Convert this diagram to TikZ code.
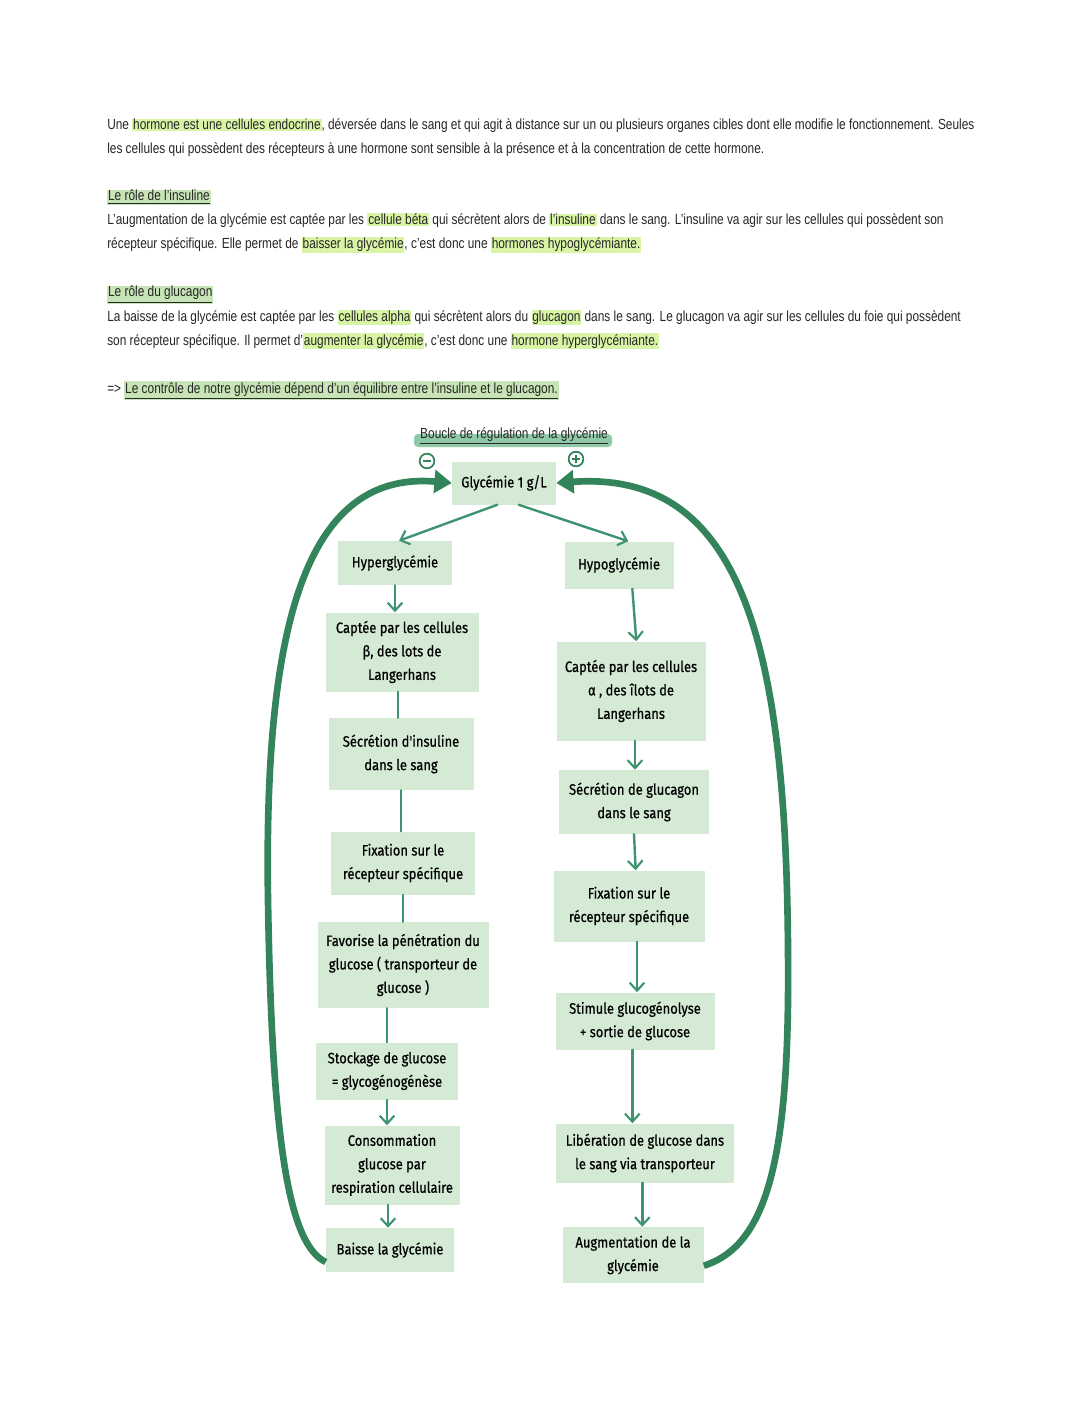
\documentclass[tikz,border=0pt]{standalone}
\usepackage{fontspec}
\setmainfont[FakeStretch=0.81]{Liberation Sans}
\newfontfamily\boxfont[FakeStretch=0.86,FakeBold=0.6]{Fira Sans}
\usetikzlibrary{arrows.meta}
\definecolor{hlyel}{HTML}{D8F5A6}
\definecolor{hlhead}{HTML}{C6E4B6}
\definecolor{titlehl}{HTML}{8FC9A8}
\definecolor{boxfill}{HTML}{D4EAD5}
\definecolor{conncol}{HTML}{3E9470}
\definecolor{arccol}{HTML}{33845A}
\definecolor{bodytext}{HTML}{262626}
\newcommand\hlg[1]{{\setlength{\fboxsep}{0.6pt}\colorbox{hlyel}{#1}}}
\newcommand\hlh[1]{{\setlength{\fboxsep}{0.6pt}\colorbox{hlhead}{\underline{#1}}}}
\tikzset{
  body/.style={anchor=base west, inner sep=0pt, text=bodytext, font=\fontsize{11}{12}\selectfont},
  fbox/.style={fill=boxfill, align=center, inner sep=2pt, text=black,
    font=\boxfont\fontsize{11.3}{17.6}\selectfont},
  bx/.style 2 args={minimum width=#1*0.75pt, minimum height=#2*0.75pt},
  conn/.style={draw=conncol, line width=1.8pt, line cap=round},
  connar/.style={conn, -{Straight Barb[length=6pt,width=11pt,line width=1.6pt]}},
  bigarc/.style={draw=arccol, line width=5pt, -{Triangle[length=13pt,width=17pt]}},
  sign/.style={circle, draw=arccol, line width=1.3pt, minimum size=11pt, inner sep=0pt}
}
\begin{document}
\begin{tikzpicture}[x=0.75pt,y=-0.75pt]
\useasboundingbox (0,0) rectangle (1080,1412);
\fill[white] (0,0) rectangle (1080,1412);

% ---- body text
\node[body] (t1) at (107,130) {Une \hlg{hormone est une cellules endocrine}, déversée dans le sang et qui agit à distance sur un ou plusieurs organes cibles dont elle modifie le fonctionnement. Seules};
\node[body] (t2) at (107,154) {les cellules qui possèdent des récepteurs à une hormone sont sensible à la présence et à la concentration de cette hormone.};
\node[body] (h1) at (107,201) {\hlh{Le rôle de l'insuline}};
\node[body] (t3) at (107,225) {L'augmentation de la glycémie est captée par les \hlg{cellule béta} qui sécrètent alors de \hlg{l'insuline} dans le sang. L'insuline va agir sur les cellules qui possèdent son};
\node[body] (t4) at (107,249) {récepteur spécifique. Elle permet de \hlg{baisser la glycémie}, c'est donc une \hlg{hormones hypoglycémiante.}};
\node[body] (h2) at (107,297) {\hlh{Le rôle du glucagon}};
\node[body] (t5) at (107,321) {La baisse de la glycémie est captée par les \hlg{cellules alpha} qui sécrètent alors du \hlg{glucagon} dans le sang. Le glucagon va agir sur les cellules du foie qui possèdent};
\node[body] (t6) at (107,345) {son récepteur spécifique. Il permet d'\hlg{augmenter la glycémie}, c'est donc une \hlg{hormone hyperglycémiante.}};
\node[body] (t7) at (107,393) {=> \hlh{Le contrôle de notre glycémie dépend d'un équilibre entre l'insuline et le glucagon.}};

% ---- title
\fill[titlehl, rounded corners=3pt] (414,434) rectangle (612,447);
\node[text=bodytext, inner sep=0pt, font=\fontsize{11}{12}\selectfont] (title) at (514,436) {\underline{Boucle de régulation de la glycémie}};

% ---- boxes
\node[fbox, bx={104}{43}] (glyc) at (504,483) {Glycémie 1 g/L};

\node[fbox, bx={114}{44}] (hyper) at (395,563) {Hyperglycémie};
\node[fbox, bx={153}{79}] (captb) at (402,652) {Captée par les cellules\\ β, des lots de\\ Langerhans};
\node[fbox, bx={145}{72}] (secri) at (401,754) {Sécrétion d'insuline\\ dans le sang};
\node[fbox, bx={144}{63}] (fixl) at (403,863) {Fixation sur le\\ récepteur spécifique};
\node[fbox, bx={171}{86}] (favo) at (403,965) {Favorise la pénétration du\\ glucose ( transporteur de\\ glucose )};
\node[fbox, bx={142}{57}] (stock) at (387,1071) {Stockage de glucose\\ = glycogénogénèse};
\node[fbox, bx={135}{79}] (conso) at (392,1165) {Consommation\\ glucose par\\ respiration cellulaire};
\node[fbox, bx={128}{44}] (baisse) at (390,1250) {Baisse la glycémie};

\node[fbox, bx={109}{47}] (hypo) at (619,565) {Hypoglycémie};
\node[fbox, bx={149}{99}] (capta) at (631,691) {Captée par les cellules\\ α , des îlots de\\ Langerhans};
\node[fbox, bx={150}{64}] (secrg) at (634,802) {Sécrétion de glucagon\\ dans le sang};
\node[fbox, bx={151}{71}] (fixr) at (629,906) {Fixation sur le\\ récepteur spécifique};
\node[fbox, bx={159}{57}] (stim) at (635,1021) {Stimule glucogénolyse\\ + sortie de glucose};
\node[fbox, bx={178}{59}] (libe) at (645,1153) {Libération de glucose dans\\ le sang via transporteur};
\node[fbox, bx={141}{56}] (augm) at (633,1255) {Augmentation de la\\ glycémie};

% ---- signs
\node[sign] (minus) at (427,461) {};
\draw[arccol, line width=1.3pt] ([xshift=-3pt]minus.center) -- ([xshift=3pt]minus.center);
\node[sign] (plus) at (576,459) {};
\draw[arccol, line width=1.3pt] ([xshift=-3pt]plus.center) -- ([xshift=3pt]plus.center);
\draw[arccol, line width=1.3pt] ([yshift=-3pt]plus.center) -- ([yshift=3pt]plus.center);

% ---- connectors
\draw[connar] ([xshift=-5pt]glyc.south) -- ([xshift=3pt]hyper.north);
\draw[connar] ([xshift=11pt]glyc.south) -- ([xshift=7pt]hypo.north);

\draw[connar] (hyper.south) -- (hyper.south |- captb.north);
\draw[conn] ([xshift=-3pt]captb.south) -- ([xshift=-3pt]captb.south |- secri.north);
\draw[conn] (secri.south) -- (secri.south |- fixl.north);
\draw[conn] (fixl.south) -- (fixl.south |- favo.north);
\draw[conn] (stock.north |- favo.south) -- (stock.north);
\draw[connar] (stock.south) -- (stock.south |- conso.north);
\draw[connar] ([xshift=-3pt]conso.south) -- ([xshift=-3pt]conso.south |- baisse.north);

\draw[connar] ([xshift=10pt]hypo.south) -- ([xshift=4pt]capta.north);
\draw[connar] ([xshift=3pt]capta.south) -- ([xshift=3pt]capta.south |- secrg.north);
\draw[connar] (secrg.south) -- ([xshift=5pt]fixr.north);
\draw[connar] ([xshift=6pt]fixr.south) -- ([xshift=6pt]fixr.south |- stim.north);
\draw[connar] ([xshift=-2pt]stim.south) -- ([xshift=-2pt]stim.south |- libe.north);
\draw[connar] ([xshift=-2pt]libe.south) -- ([xshift=-2pt]libe.south |- augm.north);

% ---- feedback arcs
\coordinate (lstart) at ([yshift=-9pt]baisse.west);
\coordinate (rstart) at ([yshift=-8pt]augm.east);
\draw[bigarc] (lstart) .. controls (290,1245) and (272,1150) .. (268,900)
  .. controls (264,640) and (300,470) .. (glyc.west);
\draw[bigarc] (rstart) .. controls (770,1245) and (790,1150) .. (788,950)
  .. controls (786,640) and (740,470) .. (glyc.east);
\end{tikzpicture}
\end{document}
